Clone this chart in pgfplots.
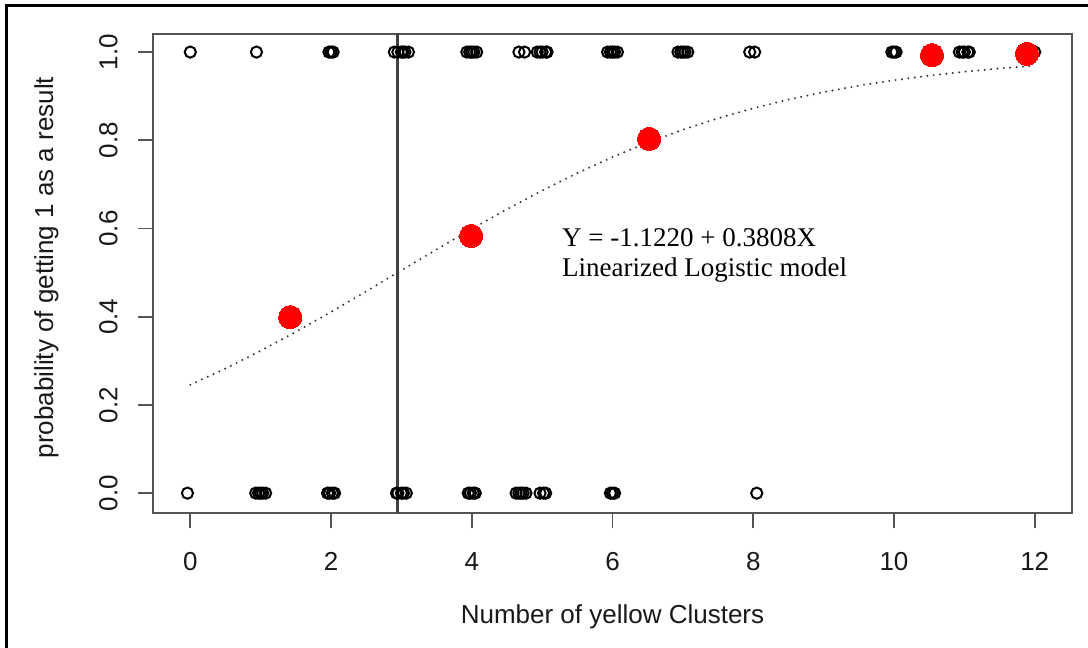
\documentclass[border=0pt]{standalone}
\usepackage{pgfplots}
\pgfplotsset{compat=1.18}
\usepackage{fontspec}
\setmainfont{Liberation Sans}
\newfontfamily\timesfont{Liberation Serif}
\definecolor{axgray}{HTML}{555555}
\definecolor{rred}{HTML}{FF0000}
\begin{document}
\begin{tikzpicture}
\useasboundingbox (0,0) rectangle (544pt,324pt);
\fill[white] (0,0) rectangle (544pt,324pt);
\draw[line width=1.6pt] (3.25pt,0) -- (3.25pt,321.25pt) -- (544pt,321.25pt);
\begin{axis}[
  at={(76.5pt,67.5pt)}, anchor=south west,
  width=459.5pt, height=239.5pt, scale only axis,
  xmin=-0.53, xmax=12.53, ymin=-0.045, ymax=1.041,
  xtick={0,2,4,6,8,10,12}, ytick={0,0.2,0.4,0.6,0.8,1.0},
  xtick pos=bottom, ytick pos=left,
  tick align=outside, major tick length=7.5pt,
  tick style={axgray, line width=0.9pt},
  axis line style={axgray, line width=1pt},
  /pgf/number format/assume math mode=true,
  yticklabel={\pgfmathprintnumber[fixed,fixed zerofill,precision=1]{\tick}},
  ticklabel style={font=\fontsize{13pt}{15pt}\selectfont, text=black!90, inner sep=0pt},
  xticklabel style={anchor=north, yshift=-12pt},
  yticklabel style={xshift=-10pt, rotate=90, anchor=south},
  xlabel={Number of yellow Clusters},
  ylabel={probability of getting 1 as a result},
  label style={font=\fontsize{13pt}{15pt}\selectfont, text=black!90, inner sep=0pt},
  xlabel style={at={(axis description cs:0.5,-0.2317)}, anchor=base},
  ylabel style={at={(axis description cs:-0.1088,0.5125)}, anchor=base, rotate=0},
  clip=true,
]
% observed responses (jittered)
\addplot[only marks, mark=o, mark size=2.8pt, mark options={line width=1pt, draw=black}] coordinates {
(0,1) (0.94,1) (1.97,1) (2.0,1) (2.03,1) (2.9,1) (2.95,1) (3.0,1) (3.02,1) (3.05,1) (3.1,1)
(3.93,1) (3.97,1) (4.0,1) (4.03,1) (4.07,1) (4.67,1) (4.75,1) (4.93,1) (4.97,1) (5.0,1) (5.05,1) (5.07,1)
(5.93,1) (5.97,1) (6.0,1) (6.03,1) (6.07,1) (6.93,1) (6.97,1) (7.0,1) (7.03,1) (7.07,1)
(7.95,1) (8.02,1) (9.97,1) (10.0,1) (10.03,1) (10.93,1) (10.97,1) (11.0,1) (11.05,1) (11.07,1) (12.0,1)
(-0.04,0) (0.93,0) (0.97,0) (1.0,0) (1.03,0) (1.07,0) (1.95,0) (1.98,0) (2.02,0) (2.05,0)
(2.93,0) (2.95,0) (3.0,0) (3.03,0) (3.07,0) (3.95,0) (3.98,0) (4.02,0) (4.05,0)
(4.63,0) (4.67,0) (4.7,0) (4.73,0) (4.77,0) (4.97,0) (5.02,0) (5.05,0) (5.97,0) (6.0,0) (6.03,0) (8.05,0)
};
% fitted logistic curve
\addplot[black!80, line width=1.1pt, line cap=round, dash pattern=on 0pt off 3.2pt] coordinates {
(0,0.2456) (0.5,0.2826) (1,0.3227) (1.5,0.3657) (2,0.4109) (2.5,0.4576) (3,0.5051) (3.5,0.5525)
(4,0.5990) (4.5,0.6437) (5,0.6861) (5.5,0.7256) (6,0.7619) (6.5,0.7946) (7,0.8240) (7.5,0.8499)
(8,0.8726) (8.5,0.8923) (9,0.9093) (9.5,0.9238) (10,0.9362) (10.5,0.9466) (11,0.9555) (11.5,0.9629) (12,0.9691)
};
% cut-off line at p = 0.5
\addplot[black!75, line width=1.2pt] coordinates {(2.946,-0.1) (2.946,1.1)};
% group means
\addplot[rred, only marks, mark=*, mark size=5.8pt, mark options={draw=rred, fill=rred, line width=0pt}] coordinates {
(1.42,0.399) (3.99,0.583) (6.52,0.803) (10.54,0.993) (11.89,0.996)
};
\node[anchor=base west, inner sep=0pt, font=\timesfont\fontsize{13.5pt}{15pt}\selectfont] at (axis cs:5.28,0.560) {Y = -1.1220 + 0.3808X};
\node[anchor=base west, inner sep=0pt, font=\timesfont\fontsize{13.5pt}{15pt}\selectfont] at (axis cs:5.28,0.492) {Linearized Logistic model};
\end{axis}
\end{tikzpicture}
\end{document}
